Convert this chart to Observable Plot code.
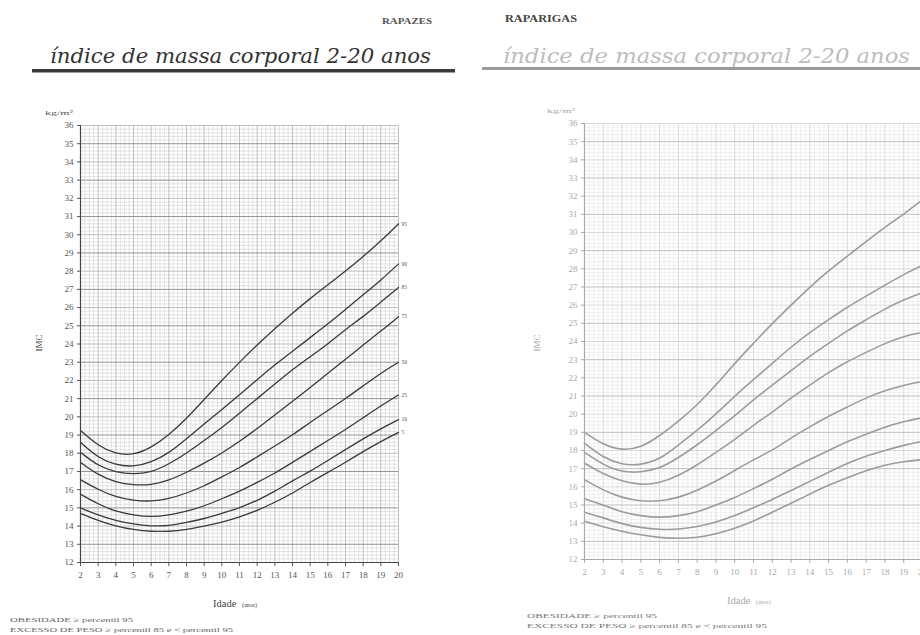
<!DOCTYPE html>
<html><head><meta charset="utf-8">
<script src="https://cdn.jsdelivr.net/npm/d3@7"></script>
<script src="https://cdn.jsdelivr.net/npm/@observablehq/plot@0.6"></script>
<style>
html,body{margin:0;padding:0;background:#fff;width:920px;height:635px;overflow:hidden;position:relative}
.chart{position:absolute}
.chart svg{max-width:none !important}
#overlay{position:absolute;left:0;top:0;pointer-events:none}
</style></head><body>
<div id="boys" class="chart" style="left:0;top:100px;width:428px"></div>
<div id="girls" class="chart" style="left:480px;top:98px;width:472px"></div>
<svg id="overlay" width="920" height="635" font-family="'Liberation Serif', 'DejaVu Serif', serif">
  <text x="432" y="24" text-anchor="end" font-size="9" font-weight="bold" fill="#555" textLength="50" lengthAdjust="spacingAndGlyphs">RAPAZES</text>
  <text x="50" y="63" font-family="'DejaVu Serif', serif" font-style="italic" font-size="20" fill="#333" textLength="381" lengthAdjust="spacingAndGlyphs">índice de massa corporal 2-20 anos</text>
  <rect x="32" y="69" width="423" height="3.5" fill="#3a3a3a"></rect>
  <text x="45" y="115" font-size="7" fill="#555" textLength="28" lengthAdjust="spacingAndGlyphs">kg/m²</text>
  <text transform="translate(42,343) rotate(-90)" text-anchor="middle" font-size="9" fill="#444">IMC</text>
  <text x="213" y="607" font-size="10.5" fill="#444">Idade <tspan font-size="6" dx="3">(anos)</tspan></text>
  <text x="10" y="622" font-size="6.5" fill="#666" textLength="123" lengthAdjust="spacingAndGlyphs">OBESIDADE ≥ percentil 95</text>
  <text x="10" y="632" font-size="6.5" fill="#666" textLength="223" lengthAdjust="spacingAndGlyphs">EXCESSO DE PESO ≥ percentil 85 e &lt; percentil 95</text>

  <text x="505" y="22" font-size="9.5" font-weight="bold" fill="#444" textLength="72" lengthAdjust="spacingAndGlyphs">RAPARIGAS</text>
  <text x="503" y="63" font-family="'DejaVu Serif', serif" font-style="italic" font-size="21" fill="#bdbdbd" textLength="407" lengthAdjust="spacingAndGlyphs">índice de massa corporal 2-20 anos</text>
  <rect x="482" y="67" width="438" height="3" fill="#9a9a9a"></rect>
  <text x="547" y="113" font-size="7" fill="#aaa" textLength="28" lengthAdjust="spacingAndGlyphs">kg/m²</text>
  <text transform="translate(540,343) rotate(-90)" text-anchor="middle" font-size="9" fill="#aaa">IMC</text>
  <text x="727" y="604" font-size="10.5" fill="#aaa">Idade <tspan font-size="6" dx="3">(anos)</tspan></text>
  <text x="527" y="618" font-size="6.5" fill="#777" textLength="130" lengthAdjust="spacingAndGlyphs">OBESIDADE ≥ percentil 95</text>
  <text x="527" y="628" font-size="6.5" fill="#777" textLength="240" lengthAdjust="spacingAndGlyphs">EXCESSO DE PESO ≥ percentil 85 e &lt; percentil 95</text>
</svg>
<script>
// ---- data ----
const ages = [2,3,4,5,6,7,8,9,10,11,12,13,14,15,16,17,18,19,20];
const percentiles = ["5","10","25","50","75","85","90","95"];
const yTicks = [12,13,14,15,16,17,18,19,20,21,22,23,24,25,26,27,28,29,30,31,32,33,34,35,36];
const xTicks = [2,3,4,5,6,7,8,9,10,11,12,13,14,15,16,17,18,19,20];

// Rapazes (boys)
const boysP5  = [14.7,14.3,14.0,13.8,13.7,13.7,13.8,14.0,14.2,14.5,14.85,15.3,15.8,16.4,16.95,17.5,18.1,18.65,19.15];
const boysP10 = [15.0,14.6,14.3,14.1,14.0,14.0,14.2,14.4,14.7,15.0,15.4,15.9,16.5,17.0,17.6,18.2,18.8,19.35,19.85];
const boysP25 = [15.75,15.2,14.8,14.6,14.5,14.6,14.8,15.1,15.5,15.9,16.4,16.9,17.5,18.1,18.7,19.3,19.95,20.6,21.2];
const boysP50 = [16.55,16.0,15.6,15.4,15.35,15.5,15.8,16.2,16.7,17.2,17.8,18.4,19.0,19.7,20.35,21.0,21.7,22.4,23.0];
const boysP75 = [17.5,16.8,16.4,16.25,16.25,16.5,16.95,17.45,18.0,18.65,19.35,20.1,20.85,21.6,22.4,23.15,23.95,24.7,25.5];
const boysP85 = [18.05,17.3,16.95,16.85,16.95,17.4,18.0,18.7,19.4,20.2,21.0,21.8,22.6,23.3,24.0,24.8,25.5,26.3,27.1];
const boysP90 = [18.6,17.75,17.35,17.25,17.5,18.0,18.8,19.6,20.4,21.2,22.05,22.85,23.6,24.35,25.1,25.9,26.7,27.5,28.4];
const boysP95 = [19.25,18.4,17.95,17.9,18.3,19.0,19.9,20.95,22.0,23.0,23.95,24.85,25.7,26.5,27.25,28.0,28.8,29.65,30.6];

// Raparigas (girls)
const girlsP5  = [14.1,13.8,13.55,13.35,13.2,13.15,13.2,13.4,13.7,14.1,14.6,15.1,15.6,16.1,16.5,16.9,17.2,17.4,17.5];
const girlsP10 = [14.6,14.3,13.95,13.75,13.65,13.65,13.8,14.05,14.4,14.85,15.3,15.8,16.3,16.8,17.3,17.7,18.0,18.3,18.5];
const girlsP25 = [15.35,15.0,14.6,14.4,14.3,14.4,14.6,15.0,15.4,15.9,16.4,17.0,17.5,18.0,18.5,18.9,19.3,19.6,19.8];
const girlsP50 = [16.4,15.8,15.4,15.2,15.2,15.4,15.8,16.3,16.9,17.5,18.0,18.7,19.3,19.9,20.4,20.9,21.3,21.6,21.8];
const girlsP75 = [17.3,16.7,16.3,16.1,16.2,16.6,17.2,17.9,18.6,19.4,20.1,20.9,21.6,22.3,22.9,23.4,23.9,24.3,24.5];
const girlsP85 = [17.9,17.2,16.8,16.8,17.0,17.6,18.3,19.1,19.9,20.8,21.6,22.4,23.2,23.9,24.6,25.2,25.8,26.3,26.7];
const girlsP90 = [18.4,17.6,17.2,17.2,17.5,18.3,19.1,20.0,21.0,21.9,22.8,23.7,24.5,25.2,25.9,26.5,27.1,27.7,28.2];
const girlsP95 = [19.0,18.3,18.0,18.15,18.8,19.6,20.5,21.6,22.8,23.9,25.0,26.0,27.0,27.9,28.7,29.5,30.3,31.0,31.8];

const boysSeries  = [boysP5,boysP10,boysP25,boysP50,boysP75,boysP85,boysP90,boysP95];
const girlsSeries = [girlsP5,girlsP10,girlsP25,girlsP50,girlsP75,girlsP85,girlsP90,girlsP95];

function toRows(series){
  const rows = [];
  series.forEach((vals, k) => vals.forEach((v, i) => rows.push({age: ages[i], bmi: v, p: percentiles[k]})));
  return rows;
}

function makeChart(series, o){
  const rows = toRows(series);
  const ends = rows.filter(d => d.age === 20);
  const minorY = d3.range(12, 36.001, 0.2).filter(v => Math.abs(v - Math.round(v)) > 1e-6);
  const minorX = d3.range(2, 20.001, 0.25).filter(v => Math.abs(v - Math.round(v)) > 1e-6);
  const evenY = yTicks.filter(v => v % 2 === 0);
  const oddY = yTicks.filter(v => v % 2 === 1);
  const marks = [
    Plot.ruleY(minorY, {stroke: o.minor, strokeWidth: 0.5}),
    Plot.ruleX(minorX, {stroke: o.minor, strokeWidth: 0.5}),
    Plot.ruleY(evenY, {stroke: o.mid, strokeWidth: 0.7}),
    Plot.ruleX(xTicks, {stroke: o.mid, strokeWidth: 0.7}),
    Plot.ruleY(oddY, {stroke: o.major, strokeWidth: 0.9}),
    Plot.line(rows, {x: "age", y: "bmi", z: "p", curve: "basis", stroke: o.line, strokeWidth: o.lw}),
    Plot.ruleX([2], {stroke: o.axis, strokeWidth: 1.2}),
    Plot.ruleY([12], {stroke: o.axis, strokeWidth: 1.2}),
    Plot.axisY({ticks: yTicks, tickSize: 3, tickPadding: 4, label: null, tickFormat: d => d}),
    Plot.axisX({ticks: xTicks, tickSize: 4, tickPadding: 5, label: null, tickFormat: d => d})
  ];
  if (o.endLabels) marks.push(Plot.text(ends, {x: "age", y: "bmi", text: "p", textAnchor: "start", dx: 3, fontSize: 5.5, fill: o.text}));
  return Plot.plot({
    width: o.width, height: o.height,
    marginLeft: o.ml, marginRight: o.mr, marginTop: o.mt, marginBottom: o.mb,
    x: {domain: [2, 20]},
    y: {domain: [12, 36]},
    style: {fontFamily: "'Liberation Serif', serif", fontSize: "9px", color: o.text, background: "transparent", overflow: "visible", maxWidth: "none"},
    marks
  });
}

document.getElementById("boys").append(makeChart(boysSeries, {
  width: 428, height: 492, ml: 80, mr: 30, mt: 25, mb: 30, endLabels: true,
  text: "#555", minor: "#c8c8c8", mid: "#a8a8a8", major: "#888",
  line: "#3a3a3a", lw: 1.3, axis: "#444"
}));
document.getElementById("girls").append(makeChart(girlsSeries, {
  width: 472, height: 491, ml: 104, mr: 30, mt: 25, mb: 30, endLabels: false,
  text: "#aaa", minor: "#e0e0e0", mid: "#cdcdcd", major: "#b8b8b8",
  line: "#9c9c9c", lw: 1.6, axis: "#aaa"
}));
</script>
</body></html>
